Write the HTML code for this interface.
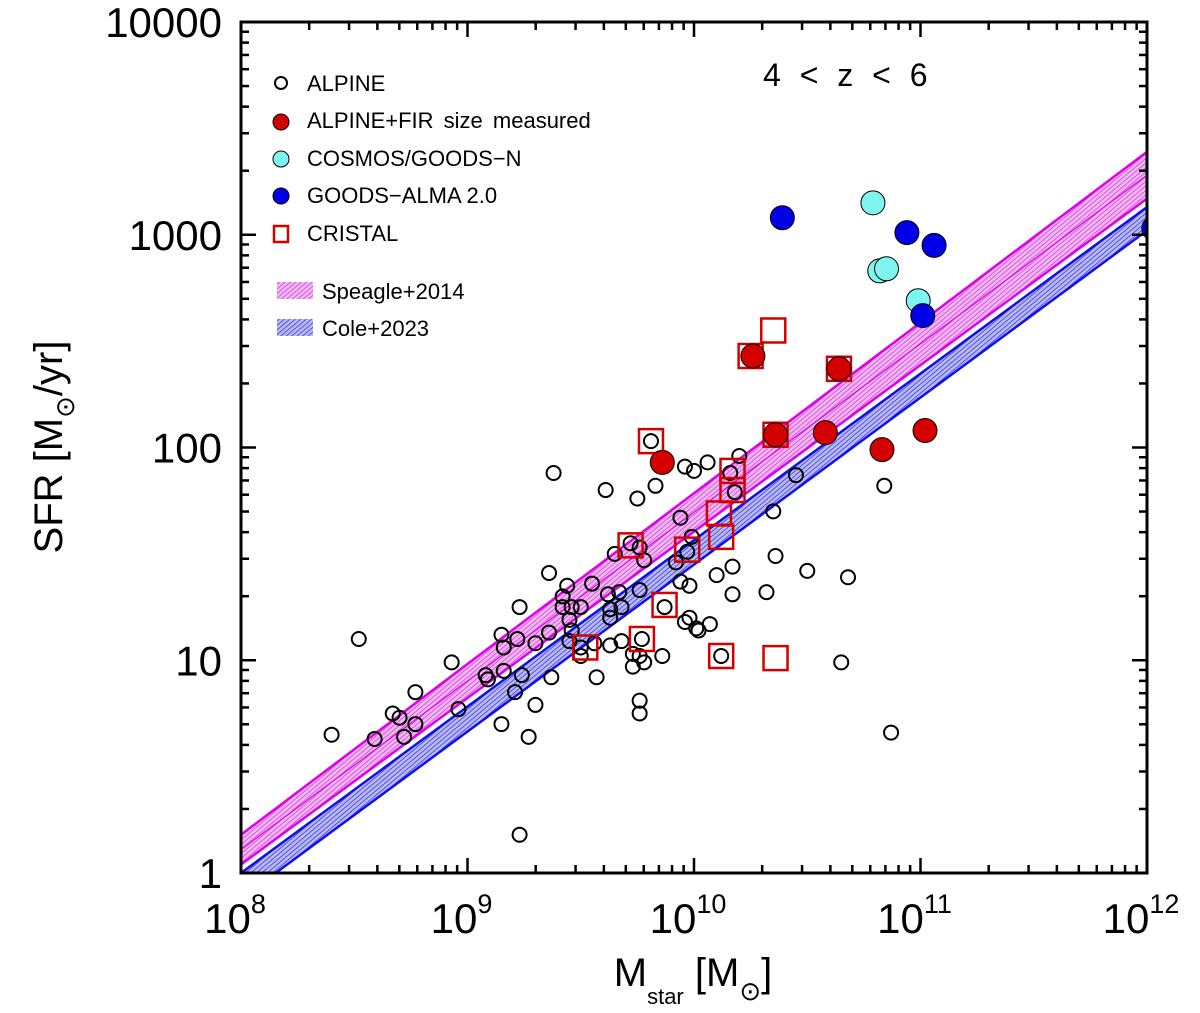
<!DOCTYPE html>
<html><head><meta charset="utf-8"><style>
html,body{margin:0;padding:0;background:#fff;}
svg{display:block;font-family:"Liberation Sans","DejaVu Sans",sans-serif;}
</style></head><body>
<svg id="chart" width="1200" height="1013" viewBox="0 0 1200 1013" xmlns="http://www.w3.org/2000/svg">
<defs>
<pattern id="hatchM" patternUnits="userSpaceOnUse" width="3.5" height="3.5" patternTransform="rotate(50)"><rect width="3.5" height="3.5" fill="#f2b8f2"/><line x1="0" y1="0" x2="0" y2="3.5" stroke="#d030d8" stroke-width="1.4"/></pattern>
<pattern id="hatchB" patternUnits="userSpaceOnUse" width="3.5" height="3.5" patternTransform="rotate(50)"><rect width="3.5" height="3.5" fill="#babaf4"/><line x1="0" y1="0" x2="0" y2="3.5" stroke="#2828e0" stroke-width="1.4"/></pattern>
<clipPath id="plotClip"><rect x="241" y="22" width="906" height="851"/></clipPath>
</defs>
<g id="bands" clip-path="url(#plotClip)"></g>
<g id="points" clip-path="url(#plotClip)"></g>
<g id="axes"></g>
<g id="legend">
 <circle cx="281" cy="83" r="6" fill="none" stroke="#000" stroke-width="2"/>
 <text x="307" y="91" font-size="22">ALPINE</text>
 <circle cx="281" cy="122" r="8" fill="#d40000" stroke="#000" stroke-width="1"/>
 <text x="307" y="128" font-size="22" word-spacing="4">ALPINE+FIR size measured</text>
 <circle cx="281" cy="159" r="8" fill="#7ff5f0" stroke="#000" stroke-width="1"/>
 <text x="307" y="166" font-size="22">COSMOS/GOODS−N</text>
 <circle cx="281" cy="196" r="8" fill="#0000e6" stroke="#000" stroke-width="1"/>
 <text x="307" y="203" font-size="22">GOODS−ALMA 2.0</text>
 <rect x="274" y="226" width="14" height="16" fill="none" stroke="#d40000" stroke-width="2.5"/>
 <text x="307" y="241" font-size="22">CRISTAL</text>
 <rect x="277" y="282" width="36" height="17" fill="url(#hatchM)"/>
 <text x="322" y="299" font-size="22">Speagle+2014</text>
 <rect x="277" y="319" width="36" height="17" fill="url(#hatchB)"/>
 <text x="322" y="336" font-size="22">Cole+2023</text>
</g>
<text x="763" y="86" font-size="32" word-spacing="10">4 &lt; z &lt; 6</text>
<text transform="translate(62,447) rotate(-90)" text-anchor="middle" font-size="40">SFR [M<tspan font-size="26" dy="12">⊙</tspan><tspan dy="-12">/yr]</tspan></text>
<text x="693" y="986" text-anchor="middle" font-size="40">M<tspan font-size="22" dy="18">star</tspan><tspan dy="-18"> [M</tspan><tspan font-size="26" dy="14">⊙</tspan><tspan dy="-14">]</tspan></text>
</svg>
<script>
// ---- data (log10 values) ----
const alpineLogM = [9.81,9.38,9.96,10.00,10.06,10.20,9.61,9.75,9.83,10.16,10.18,9.94,10.35,10.45,9.72,9.76,9.65,9.78,9.99,9.97,9.92,10.36,10.17,10.10,9.36,9.44,9.55,9.62,9.67,9.76,9.94,9.98,10.17,10.32,9.23,9.42,9.42,9.46,9.50,9.63,9.68,9.63,9.87,9.98,9.96,10.01,10.07,10.02,9.15,9.22,9.36,9.30,9.16,9.45,9.46,9.45,9.50,9.56,9.63,9.68,9.77,9.73,9.76,9.78,9.73,9.86,9.50,10.12,8.52,8.93,9.08,9.09,9.16,9.24,9.37,9.57,8.77,8.67,8.70,8.72,8.77,8.96,9.21,9.30,9.15,9.27,9.76,9.76,8.40,8.59,9.23,10.84,10.50,10.68,10.65,10.87];
const alpineLogSFR = [2.03,1.88,1.91,1.89,1.93,1.96,1.80,1.76,1.82,1.88,1.79,1.67,1.70,1.87,1.55,1.53,1.50,1.47,1.58,1.51,1.46,1.49,1.44,1.40,1.41,1.35,1.36,1.31,1.32,1.33,1.37,1.35,1.31,1.32,1.25,1.30,1.25,1.25,1.25,1.24,1.25,1.20,1.25,1.20,1.18,1.15,1.17,1.14,1.12,1.10,1.13,1.08,1.06,1.19,1.14,1.09,1.06,1.08,1.07,1.09,1.10,1.03,1.02,0.99,0.97,1.02,1.02,1.02,1.10,0.99,0.93,0.91,0.95,0.93,0.92,0.92,0.85,0.75,0.73,0.64,0.70,0.77,0.85,0.79,0.70,0.64,0.81,0.75,0.65,0.63,0.18,1.82,1.42,1.39,0.99,0.66];
const firLogM = [9.86,10.26,10.36,10.64,10.58,10.83,11.02];
const firLogSFR = [1.93,2.43,2.06,2.37,2.07,1.99,2.08];
const cosmosLogM = [10.79,10.82,10.85,10.99];
const cosmosLogSFR = [3.15,2.83,2.84,2.69];
const goodsLogM = [10.39,10.94,11.06,11.01,12.03];
const goodsLogSFR = [3.08,3.01,2.95,2.62,3.03];
const cristalLogM = [9.81,10.35,10.25,10.36,10.64,10.17,10.17,10.11,10.12,9.72,9.97,9.87,9.52,9.77,10.12,10.36];
const cristalLogSFR = [2.03,2.55,2.43,2.06,2.37,1.89,1.80,1.69,1.58,1.54,1.52,1.26,1.06,1.10,1.02,1.01];
// band edges: logSFR at logM = 8 and 12
const speagleUpper = [0.18,3.39];
const speagleLower = [0.04,3.17];
const coleUpper = [0.00,3.13];
const coleLower = [-0.12,3.02];
const xTickExp = [8,9,10,11,12];
const yTickVals = [1,10,100,1000,10000];

// ---- axes ----
const X0=241,X1=1147,Y0=873,Y1=22;
const xs = lm => X0 + (lm-8)/4*(X1-X0);
const ys = ls => Y0 - ls/4*(Y0-Y1);
const NS='http://www.w3.org/2000/svg';
function mk(tag,attrs,parent){const e=document.createElementNS(NS,tag);for(const k in attrs)e.setAttribute(k,attrs[k]);parent.appendChild(e);return e;}

const bands=document.getElementById('bands');
function band(up,lo,fill,stroke,name,mid){
  const p=mk('path',{d:`M${xs(8)},${ys(up[0])} L${xs(12)},${ys(up[1])} L${xs(12)},${ys(lo[1])} L${xs(8)},${ys(lo[0])} Z`,fill:fill,stroke:'none'},bands);
  
  
  [up,lo].forEach((e,i)=>{const l=mk('line',{x1:xs(8),y1:ys(e[0]),x2:xs(12),y2:ys(e[1]),stroke:stroke,'stroke-width':2.5},bands);
    
    });
  if(mid){const m=mk('line',{x1:xs(8),y1:ys((up[0]+lo[0])/2),x2:xs(12),y2:ys((up[1]+lo[1])/2),stroke:stroke,'stroke-width':1.2},bands);
    
    }
}
band(speagleUpper,speagleLower,'url(#hatchM)','#e000e8','speagle',true);
band(coleUpper,coleLower,'url(#hatchB)','#1010f0','cole',false);

const pts=document.getElementById('points');
alpineLogM.forEach((m,i)=>{const c=mk('circle',{cx:xs(m),cy:ys(alpineLogSFR[i]),r:7,fill:'none',stroke:'#000','stroke-width':2},pts);
  
  });
cristalLogM.forEach((m,i)=>{const r=mk('rect',{x:xs(m)-12,y:ys(cristalLogSFR[i])-12,width:24,height:24,fill:'none',stroke:'#d40000','stroke-width':2.5},pts);
  
  });
function filled(M,S,col,name){M.forEach((m,i)=>{const c=mk('circle',{cx:xs(m),cy:ys(S[i]),r:12,fill:col,stroke:'#000','stroke-width':1},pts);
  
  });}
filled(firLogM,firLogSFR,'#d40000','fir-point');
filled(cosmosLogM,cosmosLogSFR,'#7ff5f0','cosmos-point');
filled(goodsLogM,goodsLogSFR,'#0000e6','goods-alma-point');

const ax=document.getElementById('axes');
const fr=mk('rect',{x:X0,y:Y1,width:X1-X0,height:Y0-Y1,fill:'none',stroke:'#000','stroke-width':3},ax);


for(let d=8;d<12;d++){for(let k=1;k<10;k++){const lm=d+Math.log10(k);const x=xs(lm);const L=k===1?15:8;
  mk('line',{x1:x,y1:Y0,x2:x,y2:Y0-L,stroke:'#000','stroke-width':2.5},ax);
  mk('line',{x1:x,y1:Y1,x2:x,y2:Y1+L,stroke:'#000','stroke-width':2.5},ax);}}
for(let d=0;d<4;d++){for(let k=1;k<10;k++){const ls=d+Math.log10(k);const y=ys(ls);const L=k===1?15:8;
  mk('line',{x1:X0,y1:y,x2:X0+L,y2:y,stroke:'#000','stroke-width':2.5},ax);
  mk('line',{x1:X1,y1:y,x2:X1-L,y2:y,stroke:'#000','stroke-width':2.5},ax);}}
xTickExp.forEach(e=>{const t=mk('text',{x:xs(e)-6,y:933,'text-anchor':'middle','font-size':42},ax);
  
  
  t.textContent='10';const s=mk('tspan',{dy:-20,'font-size':27},t);s.textContent=String(e);});
yTickVals.forEach(v=>{const t=mk('text',{x:222,y:ys(Math.log10(v))+15,'text-anchor':'end','font-size':42},ax);
  
  
  t.textContent=String(v);});
</script>
</body></html>
